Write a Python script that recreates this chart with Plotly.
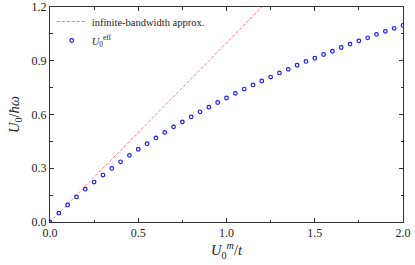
import plotly.graph_objects as go

u_m = [0.0, 0.05, 0.1, 0.15, 0.2, 0.25, 0.3, 0.35, 0.4, 0.45, 0.5, 0.55, 0.6, 0.65, 0.7,
       0.75, 0.8, 0.85, 0.9, 0.95, 1.0, 1.05, 1.1, 1.15, 1.2, 1.25, 1.3, 1.35, 1.4, 1.45,
       1.5, 1.55, 1.6, 1.65, 1.7, 1.75, 1.8, 1.85, 1.9, 1.95, 2.0]
u_eff = [0.0, 0.049, 0.095, 0.14, 0.183, 0.223, 0.262, 0.299, 0.336, 0.372, 0.406,
         0.437, 0.469, 0.50, 0.531, 0.559, 0.587, 0.615, 0.641, 0.667, 0.692, 0.718,
         0.742, 0.765, 0.787, 0.809, 0.832, 0.852, 0.875, 0.896, 0.914, 0.935, 0.953,
         0.974, 0.993, 1.011, 1.028, 1.047, 1.064, 1.081, 1.097]
approx_x = [0.0, 1.2]
approx_y = [0.0, 1.2]

FONT = "Liberation Serif"
AX = "#333333"

fig = go.Figure()
fig.add_trace(go.Scatter(
    x=approx_x, y=approx_y, mode="lines",
    line=dict(color="rgba(255,90,90,0.9)", width=0.9, dash="3px,2px"),
    name="infinite-bandwidth approx."))
fig.add_trace(go.Scatter(
    x=u_m, y=u_eff, mode="markers",
    marker=dict(symbol="circle-open", size=3.6, color="#1a1aff", line=dict(width=1.2, color="#1a1aff")),
    name="<i>U</i><sub>0</sub><sup>eff</sup>"))

axis_common = dict(
    showgrid=False, zeroline=False, showline=True, linecolor=AX, linewidth=1,
    mirror="allticks", ticks="inside", ticklen=4, tickcolor=AX, tickwidth=1,
    tickfont=dict(family=FONT, size=12, color="#222"), automargin=False,
)
fig.update_xaxes(range=[0, 2.0], tickvals=[0, 0.5, 1.0, 1.5, 2.0],
                 ticktext=["0.0", "0.5", "1.0", "1.5", "2.0"],
                 minor=dict(tickvals=[0.25, 0.75, 1.25, 1.75], ticks="inside", ticklen=2.5, tickcolor=AX),
                 title=dict(text="<i>U</i><sub>0</sub><sup><i>m</i></sup>/<i>t</i>",
                            font=dict(family=FONT, size=14.5, color="#222"), standoff=2),
                 **axis_common)
fig.update_yaxes(range=[0, 1.2], tickvals=[0, 0.3, 0.6, 0.9, 1.2],
                 ticktext=["0.0", "0.3", "0.6", "0.9", "1.2"],
                 minor=dict(tickvals=[0.15, 0.45, 0.75, 1.05], ticks="inside", ticklen=2.5, tickcolor=AX),
                 title=dict(text="<i>U</i><sub>0</sub>/<i>ħω</i>",
                            font=dict(family=FONT, size=14.5, color="#222"), standoff=8),
                 **axis_common)

fig.update_layout(
    width=415, height=265,
    margin=dict(l=50, r=12, t=7, b=43),
    paper_bgcolor="white", plot_bgcolor="white",
    showlegend=True,
    legend=dict(x=0.005, y=1.0, xanchor="left", yanchor="top",
                bgcolor="rgba(0,0,0,0)", font=dict(family=FONT, size=10.5, color="#222"),
                itemwidth=30, tracegroupgap=0),
)

fig.write_html("out.html", config={"displayModeBar": False},
               post_script="document.body.style.margin='0';document.body.style.overflow='hidden';")
